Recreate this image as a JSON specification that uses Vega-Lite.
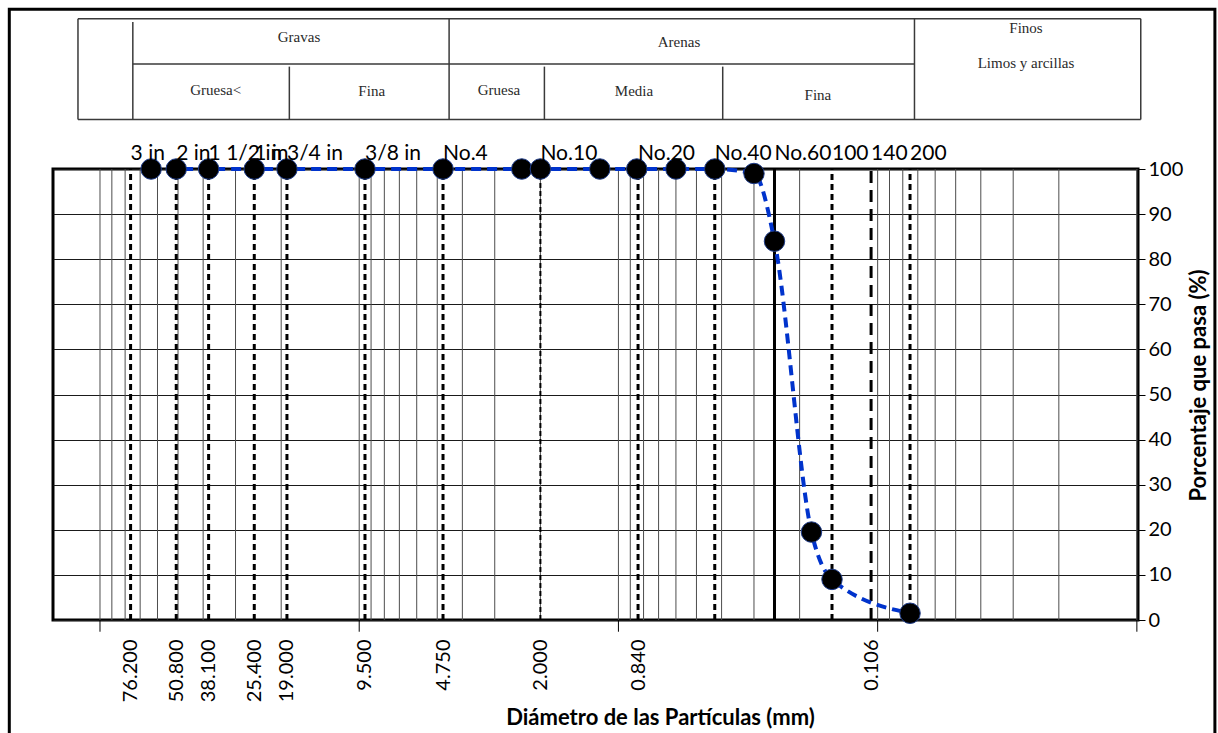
{
  "$schema": "https://vega.github.io/schema/vega-lite/v6.json",
  "width": 1085,
  "height": 451,
  "autosize": {"type": "none"},
  "padding": {"left": 53, "top": 169, "right": 80, "bottom": 113},
  "background": "white",
  "config": {
    "view": {"stroke": "black", "strokeWidth": 3},
    "text": {"font": "Lato"}
  },
  "resolve": {"axis": {"x": "independent", "y": "independent"}},
  "datasets": {
    "curva": [
      {"mm": 63.5, "pasa": 100}, {"mm": 50.8, "pasa": 100}, {"mm": 38.1, "pasa": 100},
      {"mm": 25.4, "pasa": 100}, {"mm": 19.0, "pasa": 100}, {"mm": 9.5, "pasa": 100},
      {"mm": 4.75, "pasa": 100}, {"mm": 2.36, "pasa": 100}, {"mm": 2.0, "pasa": 100},
      {"mm": 1.18, "pasa": 100}, {"mm": 0.85, "pasa": 100}, {"mm": 0.6, "pasa": 100},
      {"mm": 0.425, "pasa": 100}, {"mm": 0.3, "pasa": 99}, {"mm": 0.25, "pasa": 84},
      {"mm": 0.18, "pasa": 19.5}, {"mm": 0.15, "pasa": 9}, {"mm": 0.075, "pasa": 1.5}
    ],
    "rejilla": [
      {"v": 0.01}, {"v": 0.02}, {"v": 0.03}, {"v": 0.04}, {"v": 0.05}, {"v": 0.06}, {"v": 0.07}, {"v": 0.08}, {"v": 0.09},
      {"v": 0.1}, {"v": 0.2}, {"v": 0.3}, {"v": 0.4}, {"v": 0.5}, {"v": 0.6}, {"v": 0.7}, {"v": 0.8}, {"v": 0.9},
      {"v": 1}, {"v": 2}, {"v": 3}, {"v": 4}, {"v": 5}, {"v": 6}, {"v": 7}, {"v": 8}, {"v": 9},
      {"v": 10}, {"v": 20}, {"v": 30}, {"v": 40}, {"v": 50}, {"v": 60}, {"v": 70}, {"v": 80}, {"v": 90},
      {"v": 100}
    ],
    "decadas": [{"v": 0.01}, {"v": 0.1}, {"v": 1}, {"v": 10}, {"v": 100}],
    "tamices": [
      {"mm": 76.2, "tamiz": "3 in", "linea": "guion"},
      {"mm": 50.8, "tamiz": "2 in", "linea": "guion"},
      {"mm": 38.1, "tamiz": "1 1/2 in", "linea": "guion"},
      {"mm": 25.4, "tamiz": "1 in", "linea": "guion"},
      {"mm": 19.0, "tamiz": "3/4 in", "linea": "guion"},
      {"mm": 9.5, "tamiz": "3/8 in", "linea": "guion"},
      {"mm": 4.75, "tamiz": "No.4", "linea": "guion"},
      {"mm": 2.0, "tamiz": "No.10", "linea": "fina"},
      {"mm": 0.84, "tamiz": "No.20", "linea": "guion"},
      {"mm": 0.425, "tamiz": "No.40", "linea": "guion"},
      {"mm": 0.25, "tamiz": "No.60", "linea": "solida"},
      {"mm": 0.15, "tamiz": "100", "linea": "guion"},
      {"mm": 0.106, "tamiz": "140", "linea": "larga"},
      {"mm": 0.075, "tamiz": "200", "linea": "guion"}
    ],
    "tabla": [
      {"x1": 121.6, "x2": 0.00966, "y1": 133.3, "y2": 133.3},
      {"x1": 121.6, "x2": 0.00966, "y1": 111, "y2": 111},
      {"x1": 121.6, "x2": 121.6, "y1": 111, "y2": 133.3},
      {"x1": 0.00966, "x2": 0.00966, "y1": 111, "y2": 133.3},
      {"x1": 74.7, "x2": 74.7, "y1": 111, "y2": 132.6},
      {"x1": 74.7, "x2": 0.0721, "y1": 123.3, "y2": 123.3},
      {"x1": 4.5, "x2": 4.5, "y1": 111, "y2": 133.3},
      {"x1": 18.6, "x2": 18.6, "y1": 111, "y2": 122.7},
      {"x1": 1.93, "x2": 1.93, "y1": 111, "y2": 122.7},
      {"x1": 0.396, "x2": 0.396, "y1": 111, "y2": 122.7},
      {"x1": 0.0721, "x2": 0.0721, "y1": 111, "y2": 133.3}
    ],
    "tabla_texto": [
      {"x": 17.07, "y": 129.3, "t": "Gravas"},
      {"x": 0.584, "y": 128.2, "t": "Arenas"},
      {"x": 35.8, "y": 117.5, "t": "Gruesa<"},
      {"x": 8.95, "y": 117.3, "t": "Fina"},
      {"x": 2.89, "y": 117.5, "t": "Gruesa"},
      {"x": 0.871, "y": 117.3, "t": "Media"},
      {"x": 0.170, "y": 116.4, "t": "Fina"},
      {"x": 0.02677, "y": 131.3, "t": "Finos"},
      {"x": 0.02677, "y": 123.5, "t": "Limos y arcillas"}
    ],
    "marco": [{"x1": 223.8, "x2": 0.005, "y1": -30, "y2": 135.4}]
  },
  "layer": [
    {
      "data": {"name": "rejilla"},
      "mark": {"type": "rule", "color": "#4d4d4d", "strokeWidth": 1},
      "encoding": {
        "x": {"field": "v", "type": "quantitative", "scale": {"type": "log", "domain": [0.0099, 151.8], "reverse": true, "nice": false}, "axis": null},
        "y": {"datum": 0, "type": "quantitative", "scale": {"domain": [0, 100], "nice": false, "zero": false}, "axis": null},
        "y2": {"datum": 100}
      }
    },
    {
      "data": {"name": "decadas"},
      "mark": {"type": "rule", "color": "#000000", "strokeWidth": 1},
      "encoding": {
        "x": {"field": "v", "type": "quantitative", "scale": {"type": "log", "domain": [0.0099, 151.8], "reverse": true, "nice": false}, "axis": null},
        "y": {"datum": 0, "type": "quantitative", "scale": {"domain": [0, 100], "nice": false, "zero": false}, "axis": null},
        "y2": {"datum": -2.6}
      }
    },
    {
      "data": {"name": "tamices"},
      "transform": [{"filter": "datum.linea == 'guion'"}],
      "mark": {"type": "rule", "color": "#000000", "strokeWidth": 3, "strokeDash": [6, 4]},
      "encoding": {
        "x": {"field": "mm", "type": "quantitative", "scale": {"type": "log", "domain": [0.0099, 151.8], "reverse": true, "nice": false}, "axis": null},
        "y": {"datum": 0, "type": "quantitative", "scale": {"domain": [0, 100], "nice": false, "zero": false}, "axis": null},
        "y2": {"datum": 100}
      }
    },
    {
      "data": {"name": "tamices"},
      "transform": [{"filter": "datum.linea == 'fina'"}],
      "mark": {"type": "rule", "color": "#000000", "strokeWidth": 2, "strokeDash": [5, 3]},
      "encoding": {
        "x": {"field": "mm", "type": "quantitative", "scale": {"type": "log", "domain": [0.0099, 151.8], "reverse": true, "nice": false}, "axis": null},
        "y": {"datum": 0, "type": "quantitative", "scale": {"domain": [0, 100], "nice": false, "zero": false}, "axis": null},
        "y2": {"datum": 100}
      }
    },
    {
      "data": {"name": "tamices"},
      "transform": [{"filter": "datum.linea == 'larga'"}],
      "mark": {"type": "rule", "color": "#000000", "strokeWidth": 3, "strokeDash": [12, 7]},
      "encoding": {
        "x": {"field": "mm", "type": "quantitative", "scale": {"type": "log", "domain": [0.0099, 151.8], "reverse": true, "nice": false}, "axis": null},
        "y": {"datum": 0, "type": "quantitative", "scale": {"domain": [0, 100], "nice": false, "zero": false}, "axis": null},
        "y2": {"datum": 100}
      }
    },
    {
      "data": {"name": "tamices"},
      "transform": [{"filter": "datum.linea == 'solida'"}],
      "mark": {"type": "rule", "color": "#000000", "strokeWidth": 3},
      "encoding": {
        "x": {"field": "mm", "type": "quantitative", "scale": {"type": "log", "domain": [0.0099, 151.8], "reverse": true, "nice": false}, "axis": null},
        "y": {"datum": 0, "type": "quantitative", "scale": {"domain": [0, 100], "nice": false, "zero": false}, "axis": null},
        "y2": {"datum": 100}
      }
    },
    {
      "data": {"name": "tabla"},
      "mark": {"type": "rule", "color": "#3a3a3a", "strokeWidth": 1.5},
      "encoding": {
        "x": {"field": "x1", "type": "quantitative", "scale": {"type": "log", "domain": [0.0099, 151.8], "reverse": true, "nice": false}, "axis": null},
        "x2": {"field": "x2"},
        "y": {"field": "y1", "type": "quantitative", "scale": {"domain": [0, 100], "nice": false, "zero": false}, "axis": null},
        "y2": {"field": "y2"}
      }
    },
    {
      "data": {"name": "tabla_texto"},
      "mark": {"type": "text", "font": "Liberation Serif", "fontSize": 15, "color": "#2a2a2a", "align": "center", "baseline": "middle"},
      "encoding": {
        "x": {"field": "x", "type": "quantitative", "scale": {"type": "log", "domain": [0.0099, 151.8], "reverse": true, "nice": false}, "axis": null},
        "y": {"field": "y", "type": "quantitative", "scale": {"domain": [0, 100], "nice": false, "zero": false}, "axis": null},
        "text": {"field": "t"}
      }
    },
    {
      "data": {"name": "marco"},
      "mark": {"type": "rect", "filled": false, "stroke": "#000000", "strokeWidth": 3},
      "encoding": {
        "x": {"field": "x1", "type": "quantitative", "scale": {"type": "log", "domain": [0.0099, 151.8], "reverse": true, "nice": false}, "axis": null},
        "x2": {"field": "x2"},
        "y": {"field": "y1", "type": "quantitative", "scale": {"domain": [0, 100], "nice": false, "zero": false}, "axis": null},
        "y2": {"field": "y2"}
      }
    },
    {
      "data": {"name": "curva"},
      "mark": {"type": "line", "color": "#0033CC", "strokeWidth": 4, "strokeDash": [10, 6], "interpolate": "monotone"},
      "encoding": {
        "x": {
          "field": "mm", "type": "quantitative",
          "scale": {"type": "log", "domain": [0.0099, 151.8], "reverse": true, "nice": false},
          "axis": {
            "values": [76.2, 50.8, 38.1, 25.4, 19, 9.5, 4.75, 2, 0.84, 0.106],
            "format": ".3f",
            "labelAngle": 270,
            "labelFont": "Lato",
            "labelFontSize": 20,
            "labelColor": "#000000",
            "labelPadding": 19,
            "labelOverlap": false,
            "labelFlush": false,
            "labelBound": false,
            "ticks": false,
            "tickSize": 0,
            "domain": false,
            "grid": false,
            "title": "Diámetro de las Partículas (mm)",
            "titleFont": "Lato",
            "titleFontSize": 22,
            "titleFontWeight": "bold",
            "titleColor": "#000000",
            "titleX": 607,
            "titleY": 97,
            "titleAlign": "center",
            "titleBaseline": "middle"
          }
        },
        "y": {
          "field": "pasa", "type": "quantitative",
          "scale": {"domain": [0, 100], "nice": false, "zero": false},
          "axis": {
            "orient": "right",
            "values": [0, 10, 20, 30, 40, 50, 60, 70, 80, 90, 100],
            "grid": true,
            "gridColor": "#1a1a1a",
            "gridWidth": 1,
            "domain": false,
            "ticks": true,
            "tickColor": "#000000",
            "tickSize": 7,
            "labelFont": "Lato",
            "labelFontSize": 20,
            "labelColor": "#000000",
            "labelPadding": 3,
            "title": "Porcentaje que pasa (%)",
            "titleFont": "Lato",
            "titleFontSize": 22,
            "titleFontWeight": "bold",
            "titleColor": "#000000",
            "titleAngle": 270,
            "titleX": 60,
            "titleY": 216,
            "titleAlign": "center",
            "titleBaseline": "middle"
          }
        },
        "order": {"field": "mm", "sort": "descending"}
      }
    },
    {
      "data": {"name": "curva"},
      "mark": {"type": "point", "shape": "circle", "filled": true, "size": 420, "fill": "#000000", "stroke": "#1f3c88", "strokeWidth": 1, "opacity": 1},
      "encoding": {
        "x": {"field": "mm", "type": "quantitative", "scale": {"type": "log", "domain": [0.0099, 151.8], "reverse": true, "nice": false}, "axis": null},
        "y": {"field": "pasa", "type": "quantitative", "scale": {"domain": [0, 100], "nice": false, "zero": false}, "axis": null}
      }
    },
    {
      "data": {"name": "tamices"},
      "mark": {"type": "text", "font": "Lato", "fontSize": 21, "color": "#000000", "align": "left", "baseline": "alphabetic"},
      "encoding": {
        "x": {"field": "mm", "type": "quantitative", "scale": {"type": "log", "domain": [0.0099, 151.8], "reverse": true, "nice": false}, "axis": null},
        "y": {"datum": 102, "type": "quantitative", "scale": {"domain": [0, 100], "nice": false, "zero": false}, "axis": null},
        "text": {"field": "tamiz"}
      }
    }
  ]
}
